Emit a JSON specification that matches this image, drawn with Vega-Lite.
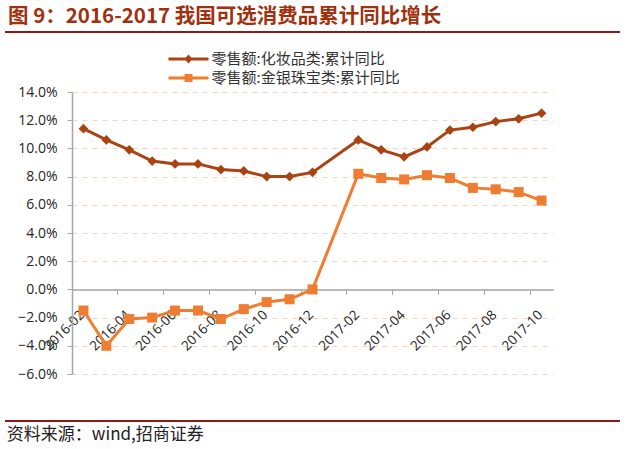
{
  "$schema": "https://vega.github.io/schema/vega-lite/v6.json",
  "width": 481,
  "height": 282,
  "autosize": {"type": "none"},
  "padding": {"left": 72, "top": 92, "right": 73, "bottom": 75},
  "background": "white",
  "config": {
    "view": {"stroke": null},
    "font": "Open Sans",
    "axisY": {
      "domainColor": "#a6a6a6",
      "domainWidth": 1.5,
      "tickColor": "#a6a6a6",
      "tickSize": 5,
      "labelPadding": 10,
      "gridColor": "#f7d3bc",
      "gridDash": [5, 5],
      "labelFont": "Open Sans",
      "labelFontSize": 14,
      "labelColor": "#262626",
      "labelOverlap": false,
      "title": null
    }
  },
  "title": {
    "text": "图 9：2016-2017 我国可选消费品累计同比增长",
    "anchor": "start",
    "frame": "group",
    "dx": -64,
    "offset": 3,
    "font": "Noto Sans CJK SC",
    "fontSize": 20.5,
    "fontWeight": "bold",
    "color": "#A0300E"
  },
  "resolve": {"scale": {"x": "independent"}, "axis": {"x": "independent", "y": "independent"}},
  "layer": [
    {
      "data": {
        "values": [
          {"month": "2016-02", "series": "零售额:化妆品类:累计同比", "value": 0.114},
          {"month": "2016-03", "series": "零售额:化妆品类:累计同比", "value": 0.106},
          {"month": "2016-04", "series": "零售额:化妆品类:累计同比", "value": 0.099},
          {"month": "2016-05", "series": "零售额:化妆品类:累计同比", "value": 0.091},
          {"month": "2016-06", "series": "零售额:化妆品类:累计同比", "value": 0.089},
          {"month": "2016-07", "series": "零售额:化妆品类:累计同比", "value": 0.089},
          {"month": "2016-08", "series": "零售额:化妆品类:累计同比", "value": 0.085},
          {"month": "2016-09", "series": "零售额:化妆品类:累计同比", "value": 0.084},
          {"month": "2016-10", "series": "零售额:化妆品类:累计同比", "value": 0.080},
          {"month": "2016-11", "series": "零售额:化妆品类:累计同比", "value": 0.080},
          {"month": "2016-12", "series": "零售额:化妆品类:累计同比", "value": 0.083},
          {"month": "2017-02", "series": "零售额:化妆品类:累计同比", "value": 0.106},
          {"month": "2017-03", "series": "零售额:化妆品类:累计同比", "value": 0.099},
          {"month": "2017-04", "series": "零售额:化妆品类:累计同比", "value": 0.094},
          {"month": "2017-05", "series": "零售额:化妆品类:累计同比", "value": 0.101},
          {"month": "2017-06", "series": "零售额:化妆品类:累计同比", "value": 0.113},
          {"month": "2017-07", "series": "零售额:化妆品类:累计同比", "value": 0.115},
          {"month": "2017-08", "series": "零售额:化妆品类:累计同比", "value": 0.119},
          {"month": "2017-09", "series": "零售额:化妆品类:累计同比", "value": 0.121},
          {"month": "2017-10", "series": "零售额:化妆品类:累计同比", "value": 0.125},
          {"month": "2016-02", "series": "零售额:金银珠宝类:累计同比", "value": -0.015},
          {"month": "2016-03", "series": "零售额:金银珠宝类:累计同比", "value": -0.040},
          {"month": "2016-04", "series": "零售额:金银珠宝类:累计同比", "value": -0.021},
          {"month": "2016-05", "series": "零售额:金银珠宝类:累计同比", "value": -0.020},
          {"month": "2016-06", "series": "零售额:金银珠宝类:累计同比", "value": -0.015},
          {"month": "2016-07", "series": "零售额:金银珠宝类:累计同比", "value": -0.015},
          {"month": "2016-08", "series": "零售额:金银珠宝类:累计同比", "value": -0.021},
          {"month": "2016-09", "series": "零售额:金银珠宝类:累计同比", "value": -0.014},
          {"month": "2016-10", "series": "零售额:金银珠宝类:累计同比", "value": -0.009},
          {"month": "2016-11", "series": "零售额:金银珠宝类:累计同比", "value": -0.007},
          {"month": "2016-12", "series": "零售额:金银珠宝类:累计同比", "value": 0.000},
          {"month": "2017-02", "series": "零售额:金银珠宝类:累计同比", "value": 0.082},
          {"month": "2017-03", "series": "零售额:金银珠宝类:累计同比", "value": 0.079},
          {"month": "2017-04", "series": "零售额:金银珠宝类:累计同比", "value": 0.078},
          {"month": "2017-05", "series": "零售额:金银珠宝类:累计同比", "value": 0.081},
          {"month": "2017-06", "series": "零售额:金银珠宝类:累计同比", "value": 0.079},
          {"month": "2017-07", "series": "零售额:金银珠宝类:累计同比", "value": 0.072},
          {"month": "2017-08", "series": "零售额:金银珠宝类:累计同比", "value": 0.071},
          {"month": "2017-09", "series": "零售额:金银珠宝类:累计同比", "value": 0.069},
          {"month": "2017-10", "series": "零售额:金银珠宝类:累计同比", "value": 0.063}
        ]
      },
      "encoding": {
        "x": {
          "field": "month",
          "type": "ordinal",
          "sort": null,
          "scale": {
            "type": "band",
            "paddingInner": 0,
            "paddingOuter": 0,
            "domain": ["2016-02", "2016-03", "2016-04", "2016-05", "2016-06", "2016-07", "2016-08", "2016-09", "2016-10", "2016-11", "2016-12", "2017-01", "2017-02", "2017-03", "2017-04", "2017-05", "2017-06", "2017-07", "2017-08", "2017-09", "2017-10"]
          },
          "axis": {
            "values": ["2016-02", "2016-04", "2016-06", "2016-08", "2016-10", "2016-12", "2017-02", "2017-04", "2017-06", "2017-08", "2017-10"],
            "bandPosition": 0,
            "labelOffset": -1,
            "labelAngle": -45,
            "labelAlign": "right",
            "labelBaseline": "middle",
            "offset": -84.6,
            "tickSize": 5,
            "labelPadding": 18,
            "domainColor": "#a6a6a6",
            "domainWidth": 1.5,
            "tickColor": "#a6a6a6",
            "grid": false,
            "title": null,
            "labelFont": "Open Sans",
            "labelFontSize": 13.5,
            "labelColor": "#262626"
          }
        },
        "y": {
          "field": "value",
          "type": "quantitative",
          "scale": {"domain": [-0.06, 0.14], "nice": false, "zero": false},
          "axis": {"format": ".1%", "values": [-0.06, -0.04, -0.02, 0, 0.02, 0.04, 0.06, 0.08, 0.1, 0.12, 0.14], "grid": true, "labelOverlap": false}
        }
      },
      "layer": [
        {
          "mark": {"type": "line", "strokeWidth": 3},
          "encoding": {
            "color": {
              "field": "series",
              "type": "nominal",
              "scale": {"domain": ["零售额:化妆品类:累计同比", "零售额:金银珠宝类:累计同比"], "range": ["#AA4311", "#EE7D31"]},
              "legend": {
                "orient": "none",
                "legendX": 106.5,
                "legendY": -43,
                "title": null,
                "labelFont": "Noto Sans CJK SC",
                "labelFontSize": 15,
                "labelColor": "#333333",
                "labelLimit": 400,
                "symbolSize": 400,
                "labelOffset": 13,
                "rowPadding": 1,
                "symbolStrokeWidth": 0,
                "encode": {
                  "symbols": {
                    "update": {
                      "shape": {"signal": "datum.value === '零售额:化妆品类:累计同比' ? 'M-2,-0.15H2V0.15H-2Z M0,-0.45L0.4,0L0,0.45L-0.4,0Z' : 'M-2,-0.15H2V0.15H-2Z M-0.4,-0.4H0.4V0.4H-0.4Z'"},
                      "fill": {"scale": "color", "field": "value"},
                      "opacity": {"value": 1}
                    }
                  }
                }
              }
            }
          }
        },
        {
          "transform": [{"filter": "datum.series === '零售额:化妆品类:累计同比'"}],
          "mark": {"type": "point", "filled": true, "opacity": 1, "size": 95, "shape": "diamond", "color": "#AA4311"}
        },
        {
          "transform": [{"filter": "datum.series === '零售额:金银珠宝类:累计同比'"}],
          "mark": {"type": "point", "filled": true, "opacity": 1, "size": 100, "shape": "square", "color": "#EE7D31"}
        }
      ]
    },
    {
      "data": {"values": [{"id": 1}]},
      "layer": [
        {
          "mark": {"type": "rule", "color": "#8B1A1A", "strokeWidth": 2},
          "encoding": {
            "x": {"datum": 0, "type": "quantitative", "scale": {"domain": [0, 1], "range": [-67, 548]}, "axis": null},
            "x2": {"datum": 1},
            "y": {"datum": 0.1826, "type": "quantitative", "scale": {"domain": [-0.06, 0.14], "nice": false, "zero": false}, "axis": null}
          }
        },
        {
          "mark": {"type": "rule", "color": "#8B1A1A", "strokeWidth": 2},
          "encoding": {
            "x": {"datum": 0, "type": "quantitative", "scale": {"domain": [0, 1], "range": [-67, 548]}, "axis": null},
            "x2": {"datum": 1},
            "y": {"datum": -0.0933, "type": "quantitative", "scale": {"domain": [-0.06, 0.14], "nice": false, "zero": false}, "axis": null}
          }
        },
        {
          "mark": {"type": "text", "align": "left", "baseline": "middle", "font": "Noto Sans CJK SC", "fontSize": 17, "color": "#222222"},
          "encoding": {
            "x": {"datum": 0.003, "type": "quantitative", "scale": {"domain": [0, 1], "range": [-67, 548]}, "axis": null},
            "y": {"datum": -0.1033, "type": "quantitative", "scale": {"domain": [-0.06, 0.14], "nice": false, "zero": false}, "axis": null},
            "text": {"value": "资料来源：wind,招商证券"}
          }
        }
      ]
    }
  ]
}
